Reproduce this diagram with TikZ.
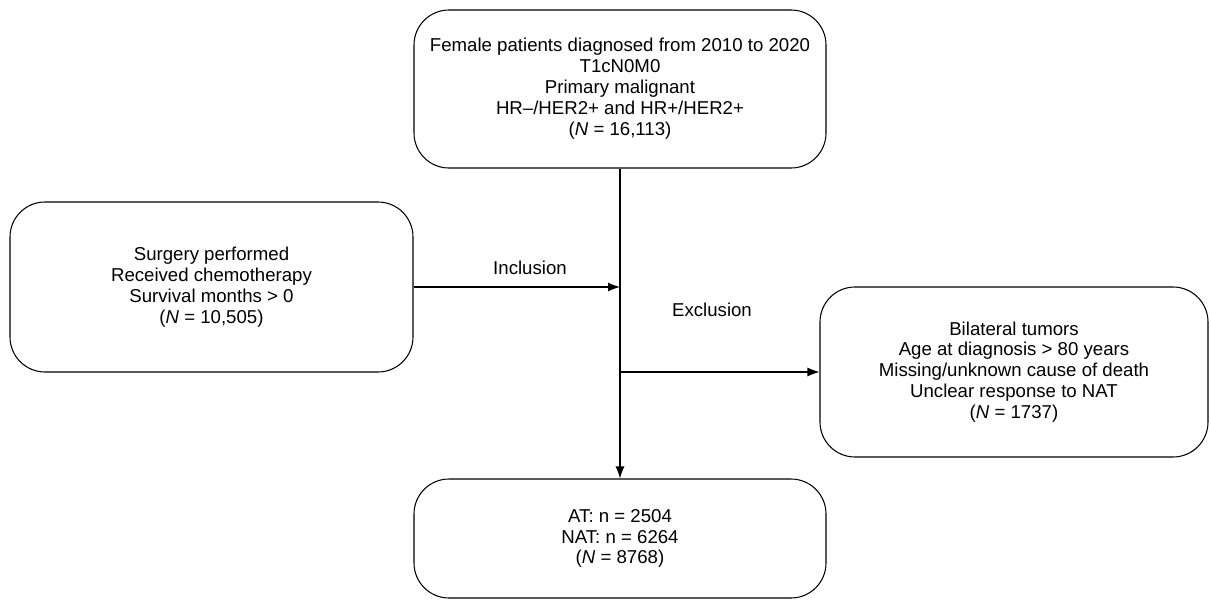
\documentclass[tikz,border=0pt]{standalone}
\usepackage{fontspec}
\setmainfont{Liberation Sans}
\usetikzlibrary{arrows.meta,positioning}
\tikzstyle{block} = [draw, rounded corners=0.7cm, align=center, inner sep=0pt, line width=0.6pt, font=\fontsize{10.6}{11.9}\selectfont]

\begin{document}
\begin{tikzpicture}[auto,>={Latex[length=2.4mm,width=1.8mm]}]
    \useasboundingbox (0,0) rectangle (24.22,12);
    \node [block, minimum width=8.24cm, minimum height=3.16cm] (cohort) at (12.4,10.22) {Female patients diagnosed from 2010 to 2020\\T1cN0M0\\Primary malignant\\HR--/HER2+ and HR+/HER2+\\(\textit{N} = 16,113)};
    \node [block, minimum width=8.06cm, minimum height=3.4cm] (incl) at (4.23,6.26) {Surgery performed\\Received chemotherapy\\Survival months > 0\\(\textit{N} = 10,505)};
    \node [block, minimum width=7.76cm, minimum height=3.4cm] (excl) at (20.28,4.56) {Bilateral tumors\\Age at diagnosis > 80 years\\Missing/unknown cause of death\\Unclear response to NAT\\(\textit{N} = 1737)};
    \node [block, minimum width=8.24cm, minimum height=2.38cm] (final) at (12.4,1.23) {AT: n = 2504\\NAT: n = 6264\\(\textit{N} = 8768)};

    \coordinate (inJoin) at (cohort.south |- incl.east);
    \coordinate (exJoin) at (cohort.south |- excl.west);

    \draw [->, line width=0.6pt] (cohort.south) -- (final.north);
    \draw [->, line width=0.6pt] (incl.east) -- (inJoin);
    \draw [->, line width=0.6pt] (exJoin) -- (excl.west);

    \node [font=\fontsize{10.6}{11.9}\selectfont] (inLabel) at (10.6,6.64) {Inclusion};
    \node [font=\fontsize{10.6}{11.9}\selectfont] (exLabel) at (14.24,5.8) {Exclusion};
\end{tikzpicture}
\end{document}
